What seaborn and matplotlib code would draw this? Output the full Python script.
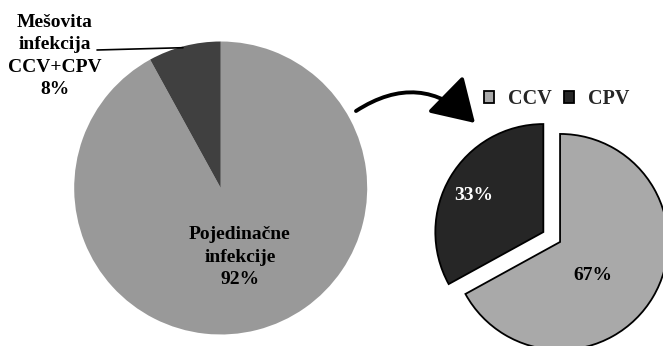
import matplotlib
matplotlib.use("Agg")
import matplotlib.pyplot as plt
import seaborn as sns
from matplotlib.patches import FancyArrowPatch

sns.set_theme(style="white")
plt.rcParams['font.family'] = ['Liberation Serif', 'DejaVu Serif']

# Data
infection_types = ["Pojedinačne\ninfekcije", "Mešovita\ninfekcija\nCCV+CPV"]
infection_share = [92, 8]
virus_labels = ["CCV", "CPV"]
virus_share = [67, 33]

W, H = 663, 346
fig = plt.figure(figsize=(W / 100, H / 100), dpi=100)
ax = fig.add_axes([0, 0, 1, 1])

def Y(y_top):
    return H - y_top

# Left pie
left_colors = ["#999999", "#404040"]
ax.pie(infection_share, colors=left_colors, startangle=90, counterclock=False,
       center=(220.7, Y(188)), radius=146.5, frame=True,
       wedgeprops=dict(linewidth=0))

# Right pie (exploded)
r_right = 108
right_colors = ["#a9a9a9", "#262626"]
wedges, _ = ax.pie(virus_share, colors=right_colors, startangle=90, counterclock=False,
                   center=(551.7, Y(237)), radius=r_right,
                   explode=[0.09 * r_right, 0.09 * r_right], frame=True,
                   wedgeprops=dict(edgecolor="black", linewidth=1.3))

ax.set_xlim(0, W)
ax.set_ylim(0, H)
ax.set_aspect("equal")
ax.axis("off")

bold = dict(fontweight="bold", fontsize=14, ha="center", va="center",
            linespacing=1.4)

# Left pie labels
ax.text(240, Y(257), f"{infection_types[0]}\n{infection_share[0]}%", color="black", **bold)
ax.text(55, Y(56), f"{infection_types[1]}\n{infection_share[1]}%", color="black", **bold)
ax.plot([97, 183], [Y(50), Y(47.7)], color="black", lw=1.2)

# Right pie labels
ax.text(474, Y(196), f"{virus_share[1]}%", color="white", **bold)
ax.text(593, Y(276), f"{virus_share[0]}%", color="black", **bold)

# Legend
leg = ax.legend(wedges, virus_labels, loc="center", bbox_to_anchor=(557, Y(99)),
                bbox_transform=ax.transData, ncol=2, frameon=False,
                handlelength=0.5, handleheight=0.5, handletextpad=0.7,
                columnspacing=0.6, borderpad=0, borderaxespad=0,
                prop=dict(family="Liberation Serif", weight="bold", size=14.5))

# Arrow
arrow = FancyArrowPatch((356, Y(111)), (475, Y(123)),
                        connectionstyle="arc3,rad=-0.4",
                        arrowstyle="-|>,head_length=1.3,head_width=0.8",
                        mutation_scale=20, lw=2.8, color="black",
                        shrinkA=0, shrinkB=0)
ax.add_patch(arrow)

fig.savefig("out.png", dpi=100)
